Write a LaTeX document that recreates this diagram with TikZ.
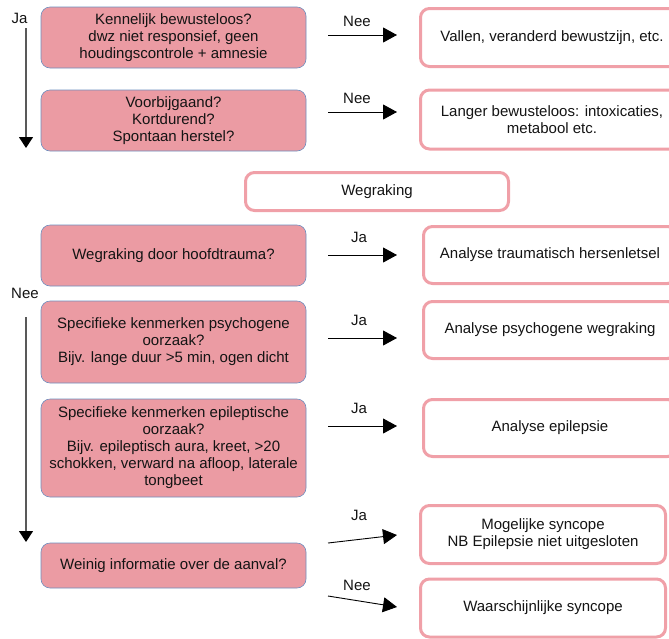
\documentclass[tikz,border=0pt]{standalone}
\usepackage{fontspec}
\setmainfont{Liberation Sans}
\usetikzlibrary{arrows.meta, positioning}
\definecolor{qfill}{HTML}{EB9BA3}
\definecolor{qdraw}{HTML}{6C8EBF}
\definecolor{odraw}{HTML}{F0A0A8}
\definecolor{txt}{HTML}{141414}

\begin{document}
\begin{tikzpicture}[x=1pt, y=-1pt,
  every node/.style={font=\fontsize{15}{17}\selectfont, text=txt},
  question/.style={rectangle, rounded corners=9pt, draw=qdraw, fill=qfill, line width=0.6pt, minimum width=265pt, align=center, inner sep=1pt},
  outcome/.style={rectangle, rounded corners=9pt, draw=odraw, fill=white, line width=3pt, align=center, inner sep=1pt},
  flow/.style={-{Triangle[length=14pt, width=15pt]}, black, line width=0.9pt},
  down/.style={-{Triangle[length=11pt, width=14pt, color=black]}, black!65, line width=1.2pt},
  lbl/.style={inner sep=1pt},
]
\useasboundingbox (0,0) rectangle (669,638);
\clip (0,0) rectangle (669,638);

% Questions
\node[question, minimum height=61pt] (bewust) at (173.5,37.5) {Kennelijk bewusteloos?\\dwz niet responsief, geen\\houdingscontrole + amnesie};
\node[question, minimum height=61pt] (kort) at (173.5,120.5) {Voorbijgaand?\\Kortdurend?\\Spontaan herstel?};
\node[question, minimum height=61pt] (trauma) at (173.5,255.5) {Wegraking door hoofdtrauma?};
\node[question, minimum height=82pt] (psych) at (173.5,342) {Specifieke kenmerken psychogene\\oorzaak?\\Bijv. lange duur >5 min, ogen dicht};
\node[question, minimum height=98pt] (epi) at (173.5,448) {Specifieke kenmerken epileptische\\oorzaak?\\Bijv. epileptisch aura, kreet, >20\\schokken, verward na afloop, laterale\\tongbeet};
\node[question, minimum height=45pt] (info) at (173.5,565.5) {Weinig informatie over de aanval?};

% Outcomes
\node[outcome, minimum width=263pt, minimum height=58pt] (vallen) at (552,37.5) {Vallen, veranderd bewustzijn, etc.};
\node[outcome, minimum width=263pt, minimum height=59pt] (langer) at (552,119.5) {Langer bewusteloos: intoxicaties,\\metabool etc.};
\node[outcome, minimum width=263pt, minimum height=38pt] (wegraking) at (377,191.5) {Wegraking};
\node[outcome, minimum width=253pt, minimum height=57pt] (analtrauma) at (550,255) {Analyse traumatisch hersenletsel};
\node[outcome, minimum width=253pt, minimum height=57pt] (analpsych) at (550,330) {Analyse psychogene wegraking};
\node[outcome, minimum width=253pt, minimum height=57pt] (analepi) at (550,428) {Analyse epilepsie};
\node[outcome, minimum width=245pt, minimum height=58pt] (mogelijk) at (543,534.5) {Mogelijke syncope\\NB Epilepsie niet uitgesloten};
\node[outcome, minimum width=245pt, minimum height=58pt] (waarsch) at (543,608) {Waarschijnlijke syncope};

% Vertical flow
\node[lbl] (ja) at (19.5,18) {Ja};
\coordinate (d1s) at (26,28);
\coordinate (d1e) at (26,148);
\draw[down] (d1s) -- (d1e);
\node[lbl] (nee) at (25,293.5) {Nee};
\coordinate (d2s) at (26,317);
\coordinate (d2e) at (26,542);
\draw[down] (d2s) -- (d2e);

% Side arrows
\coordinate (a1s) at (328,35);  \coordinate (a1e) at (397,35);
\coordinate (a2s) at (328,112); \coordinate (a2e) at (397,112);
\coordinate (a3s) at (328,255); \coordinate (a3e) at (397,255);
\coordinate (a4s) at (328,338); \coordinate (a4e) at (397,338);
\coordinate (a5s) at (328,426); \coordinate (a5e) at (397,426);
\coordinate (a6s) at (328,543); \coordinate (a6e) at (397,535);
\coordinate (a7s) at (328,596); \coordinate (a7e) at (397,607);

\draw[flow] (a1s) -- node[lbl, above=7pt, pos=0.42] {Nee} (a1e);
\draw[flow] (a2s) -- node[lbl, above=7pt, pos=0.42] {Nee} (a2e);
\draw[flow] (a3s) -- node[lbl, above=11pt, pos=0.45] {Ja} (a3e);
\draw[flow] (a4s) -- node[lbl, above=11pt, pos=0.45] {Ja} (a4e);
\draw[flow] (a5s) -- node[lbl, above=11pt, pos=0.45] {Ja} (a5e);
\draw[flow] (a6s) -- node[lbl, above=17pt, pos=0.45] {Ja} (a6e);
\draw[flow] (a7s) -- node[lbl, above=9pt, pos=0.42] {Nee} (a7e);

\end{tikzpicture}
\end{document}
